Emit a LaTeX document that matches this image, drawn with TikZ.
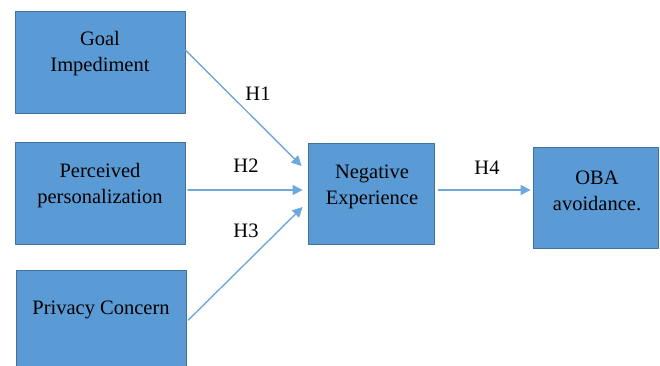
\documentclass[tikz,border=0pt]{standalone}
\usepackage{fontspec}
\setmainfont{Liberation Serif}
\newfontfamily\diagfont{Liberation Serif}
\usetikzlibrary{arrows.meta}
\definecolor{boxblue}{HTML}{5B9BD5}
\definecolor{boxedge}{HTML}{41719C}
\definecolor{arrblue}{HTML}{6FA8DC}

\begin{document}
\begin{tikzpicture}[line cap=round,line join=round,x=1pt,y=-1pt,
		box/.style={draw=boxedge,line width=0.8pt,fill=boxblue,minimum width=170pt,minimum height=102pt,inner sep=0pt},
		smallbox/.style={box,minimum width=126pt,minimum height=101pt},
		txt/.style={align=center,font=\diagfont\fontsize{20.5}{26}\selectfont,inner sep=0pt},
		arr/.style={draw=arrblue,line width=1.4pt,-{Triangle[length=10pt,width=10pt]}}]
			\useasboundingbox (0,0) rectangle (660,365);
			% boxes
			\node[box] (goal) at (100,62) {};
			\node[box] (perc) at (100.5,193) {};
			\node[box] (priv) at (101,321) {};
			\node[smallbox] (neg) at (371,193.5) {};
			\node[smallbox,minimum width=125pt] (oba) at (595.5,198) {};
			% texts
			\node[txt] (goaltxt) at (100,54) {Goal\\Impediment};
			\node[txt] (perctxt) at (100,186) {Perceived\\personalization};
			\node[txt] (privtxt) at (101,310) {Privacy Concern};
			\node[txt] (negtxt) at (372,187) {Negative\\Experience};
			\node[txt] (obatxt) at (597,191) {OBA\\avoidance.};
			% arrows
			\draw[arr] ([yshift=12pt]goal.east) -- ([xshift=-6pt,yshift=27.5pt]neg.west);
			\draw[arr] ([xshift=2pt,yshift=3pt]perc.east) -- ([xshift=-5pt,yshift=3.5pt]neg.west);
			\draw[arr] ([xshift=2pt,yshift=1pt]priv.east) -- ([xshift=-5pt,yshift=-13.5pt]neg.west);
			\draw[arr] ([xshift=4pt,yshift=3.5pt]neg.east) -- ([xshift=-2pt,yshift=8pt]oba.west);
			% labels
			\node[txt] (h1) at (258,94) {H1};
			\node[txt] (h2) at (246,166) {H2};
			\node[txt] (h3) at (246,231) {H3};
			\node[txt] (h4) at (487,168) {H4};
		\end{tikzpicture}
\end{document}
